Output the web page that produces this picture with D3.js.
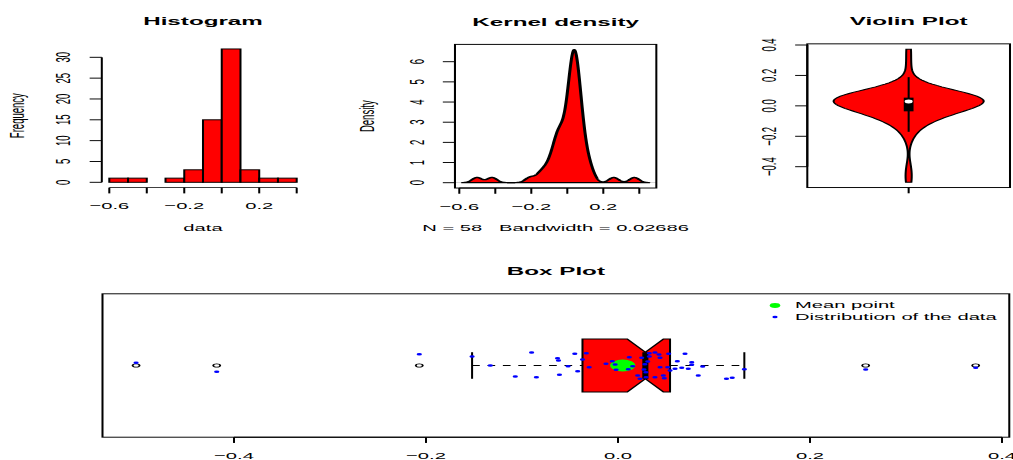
<!DOCTYPE html>
<html><head><meta charset="utf-8">
<script src="https://cdn.jsdelivr.net/npm/d3@7"></script>
<style>body{margin:0;background:#fff}svg{display:block}</style>
</head><body>
<svg id="chart" width="1013" height="460" viewBox="0 0 500 480" preserveAspectRatio="none"></svg>
<script>
// ---------------- data ----------------
const values = [-0.502,-0.418,-0.207,-0.152,-0.133,-0.107,-0.090,-0.085,-0.063,-0.062,
  -0.061,-0.052,-0.045,-0.042,-0.037,-0.033,-0.030,-0.0125,-0.006,-0.003,
  -0.002,0.0107,0.0118,0.0153,0.0205,0.0229,0.0247,0.027,0.028,0.029,
  0.0292,0.031,0.0326,0.0326,0.0385,0.0385,0.0427,0.0438,0.0438,0.0472,
  0.0482,0.0518,0.0528,0.0542,0.0594,0.0618,0.0664,0.0698,0.0732,0.0768,
  0.0768,0.0836,0.0882,0.113,0.119,0.1316,0.258,0.3726];
const jitterY = [0.02,-0.047,0.085,0.068,0.0,-0.083,0.098,-0.088,0.055,0.038,
  -0.07,-0.005,0.088,-0.043,0.045,0.093,-0.013,0.013,0.032,0.008,
  -0.032,-0.028,0.062,-0.005,-0.075,-0.1,0.058,-0.03,0.01,-0.05,
  -0.088,0.03,0.093,0.068,0.098,-0.088,0.083,0.058,-0.013,-0.075,
  -0.096,-0.013,0.088,-0.038,-0.025,0.032,-0.017,0.088,-0.025,0.025,
  0.005,-0.075,-0.008,-0.1,-0.093,-0.028,-0.03,-0.017];
const histBreaks = [-0.6,-0.5,-0.4,-0.3,-0.2,-0.1,0,0.1,0.2,0.3,0.4];
const histTicks = [-0.6,-0.4,-0.2,0,0.2,0.4];
const histTickLabels = ["\u22120.6","","\u22120.2","","0.2",""];
const freqTicks = [0,5,10,15,20,25,30];
const densXTicks = [-0.6,-0.4,-0.2,0,0.2,0.4];
const densXTickLabels = ["\u22120.6","","\u22120.2","","0.2",""];
const densYTicks = [0,1,2,3,4,5,6];
const violinTicks = [-0.4,-0.2,0,0.2,0.4];
const boxTicks = [-0.4,-0.2,0,0.2,0.4];
const bandwidth = 0.02686;
const titles = ["Histogram","Kernel density","Violin Plot","Box Plot"];
const xLabels = ["data"];
const yLabels = ["Frequency","Density"];
const legendLabels = ["Mean point","Distribution of the data"];

// ---------------- helpers ----------------
const SX = 1013/500, SY = 460/480;
const rx = v => v / SX, ry = v => v / SY;   // reference pixels -> drawing units
const FONT = "'Liberation Sans', Arial, Helvetica, sans-serif";
const FS = 9.96, FT = 11.95;
const svg = d3.select("#chart");
svg.append("rect").attr("width",500).attr("height",480).attr("fill","#fff");

function styleAxis(g){
  g.attr("font-family", FONT).attr("font-size", FS);
  g.selectAll("line,path").attr("stroke","#000").attr("stroke-width",1);
  g.selectAll("text").attr("fill","#000");
}
function rotateLeftLabels(g, gap){
  g.selectAll(".tick text").attr("x",0).attr("dy",0).attr("text-anchor","middle")
    .attr("transform",`translate(${-gap},0) rotate(-90)`);
}
function text(x,y,s,opt={}){
  const t = svg.append("text").attr("x",x).attr("y",y).text(s)
    .attr("font-family",FONT).attr("font-size",opt.size||FS)
    .attr("font-weight",opt.bold?"bold":"normal")
    .attr("text-anchor",opt.anchor||"middle").attr("fill","#000");
  if(opt.rot){ t.attr("x",0).attr("y",0).attr("transform",`translate(${x},${y}) rotate(-90)`); }
  return t;
}
const gauss = u => Math.exp(-0.5*u*u)/Math.sqrt(2*Math.PI);
const n = values.length;
const sorted = values.slice().sort(d3.ascending);
const vmin = sorted[0], vmax = sorted[n-1], vr = vmax - vmin;
const TITLE_GAP = 19.4, TICK = 6, XLAB_PAD = 9.4, YLAB_GAP = 15.5;

// ---------------- Histogram ----------------
const counts = histBreaks.slice(0,-1).map((a,i)=>({a, b:histBreaks[i+1],
  c: values.filter(v => v > a && v <= histBreaks[i+1]).length}));
const cmax = d3.max(counts, d=>d.c);
const hx = d3.scaleLinear().domain([-0.6,0.4]).range([rx(109.3), rx(296.7)]);
const hy = d3.scaleLinear().domain([0,30]).range([ry(182.3), ry(57.3)]);
const hL = hx(-0.6 - 0.04), hR = hx(0.4 + 0.04);
const hB = hy(-0.04*cmax), hT = hy(1.04*cmax);
svg.append("g").selectAll("rect").data(counts).join("rect")
  .attr("x", d=>hx(d.a)).attr("width", d=>hx(d.b)-hx(d.a))
  .attr("y", d=>hy(d.c)).attr("height", d=>hy(0)-hy(d.c))
  .attr("fill","#ff0000").attr("stroke","#000").attr("stroke-width",1);
const hxa = svg.append("g").attr("transform",`translate(0,${hB})`)
  .call(d3.axisBottom(hx).tickValues(histTicks).tickFormat((d,i)=>histTickLabels[i])
    .tickSize(TICK).tickSizeOuter(0).tickPadding(XLAB_PAD).offset(0));
styleAxis(hxa);
const hya = svg.append("g").attr("transform",`translate(${hL},0)`)
  .call(d3.axisLeft(hy).tickValues(freqTicks).tickFormat(d3.format("d"))
    .tickSize(TICK).tickSizeOuter(0).offset(0));
styleAxis(hya); rotateLeftLabels(hya, YLAB_GAP);
text((hL+hR)/2, hT - TITLE_GAP, titles[0], {bold:true, size:FT});
text((hL+hR)/2, hB + 45.2, xLabels[0]);
text(hL - 38.3, (hT+hB)/2, yLabels[0], {rot:true});

// ---------------- Kernel density ----------------
const gLo = vmin - 3*bandwidth, gHi = vmax + 3*bandwidth;
const dens = d3.range(512).map(i => {
  const g = gLo + i*(gHi-gLo)/511;
  return [g, d3.sum(values, v => gauss((g-v)/bandwidth))/(n*bandwidth)];
});
const dmax = d3.max(dens, d=>d[1]);
const dx = d3.scaleLinear().domain([-0.6,0.4]).range([rx(459.3), rx(639.3)]);
const dy = d3.scaleLinear().domain([0,6]).range([ry(182.7), ry(61.7)]);
const dPad = (gHi-gLo)*0.04;
const dL = dx(gLo-dPad), dR = dx(gHi+dPad), dT = dy(dmax*1.04), dB = dy(-dmax*0.04);
svg.append("line").attr("x1",dL).attr("x2",dR).attr("y1",dy(0)).attr("y2",dy(0))
  .attr("stroke","#b0b0b0").attr("stroke-width",0.5);
svg.append("path").datum(dens)
  .attr("d", d => d3.line().x(p=>dx(p[0])).y(p=>dy(p[1]))(d) + "Z")
  .attr("fill","#ff0000").attr("stroke","#000").attr("stroke-width",1.5).attr("stroke-linejoin","round");
svg.append("rect").attr("x",dL).attr("y",dT).attr("width",dR-dL).attr("height",dB-dT)
  .attr("fill","none").attr("stroke","#000").attr("stroke-width",1);
const dxa = svg.append("g").attr("transform",`translate(0,${dB})`)
  .call(d3.axisBottom(dx).tickValues(densXTicks).tickFormat((d,i)=>densXTickLabels[i])
    .tickSize(TICK).tickSizeOuter(0).tickPadding(XLAB_PAD).offset(0));
styleAxis(dxa);
const dya = svg.append("g").attr("transform",`translate(${dL},0)`)
  .call(d3.axisLeft(dy).tickValues(densYTicks).tickFormat(d3.format("d"))
    .tickSize(TICK).tickSizeOuter(0).offset(0));
styleAxis(dya); rotateLeftLabels(dya, YLAB_GAP);
text((dL+dR)/2, dT - TITLE_GAP, titles[1], {bold:true, size:FT});
text((dL+dR)/2, dB + 45.2, `N = ${n}   Bandwidth = ${bandwidth}`).style("white-space","pre");
text(dL - 40, (dT+dB)/2, yLabels[1], {rot:true});

// ---------------- Violin ----------------
const vx = d3.scaleLinear().domain([0.46,1.54]).range([rx(807.3), rx(1010)]);
const vy = d3.scaleLinear().domain([-0.4,0.4]).range([ry(166.7), ry(45)]);
const vL = vx(0.46), vR = vx(1.54), vT = vy(vmax+0.04*vr), vB = vy(vmin-0.04*vr);
const h = d3.deviation(values) * Math.pow(4/(3*n), 0.2);
const vden = d3.range(100).map(i => {
  const g = vmin + i*vr/99;
  return [g, d3.mean(values, v => gauss((g-v)/h))/h];
});
const vdm = d3.max(vden, d=>d[1]);
const halfW = 0.4;
const vpts = vden.map(d=>[1 - d[1]/vdm*halfW, d[0]])
  .concat(vden.slice().reverse().map(d=>[1 + d[1]/vdm*halfW, d[0]]));
svg.append("path").datum(vpts)
  .attr("d", d => d3.line().x(p=>vx(p[0])).y(p=>vy(p[1]))(d) + "Z")
  .attr("fill","#ff0000").attr("stroke","#000").attr("stroke-width",1);
const q1 = d3.quantileSorted(sorted,0.25), q3 = d3.quantileSorted(sorted,0.75), med = d3.quantileSorted(sorted,0.5);
const vIqr = q3 - q1;
const vUp = Math.min(q3 + 1.5*vIqr, vmax), vLo = Math.max(q1 - 1.5*vIqr, vmin);
svg.append("line").attr("x1",vx(1)).attr("x2",vx(1)).attr("y1",vy(vUp)).attr("y2",vy(vLo))
  .attr("stroke","#000").attr("stroke-width",1);
svg.append("rect").attr("x",vx(1-0.026)).attr("width",vx(1.026)-vx(0.974))
  .attr("y",vy(q3)).attr("height",vy(q1)-vy(q3)).attr("fill","#000");
svg.append("circle").attr("cx",vx(1)).attr("cy",vy(med)).attr("r",2).attr("fill","#fff");
svg.append("rect").attr("x",vL).attr("y",vT).attr("width",vR-vL).attr("height",vB-vT)
  .attr("fill","none").attr("stroke","#000").attr("stroke-width",1);
const vya = svg.append("g").attr("transform",`translate(${vL},0)`)
  .call(d3.axisLeft(vy).tickValues(violinTicks).tickFormat(d3.format(".1f"))
    .tickSize(TICK).tickSizeOuter(0).offset(0));
styleAxis(vya); rotateLeftLabels(vya, YLAB_GAP);
const vxa = svg.append("g").attr("transform",`translate(0,${vB})`)
  .call(d3.axisBottom(vx).tickValues([1]).tickFormat(()=>"").tickSize(TICK).tickSizeOuter(0).offset(0));
styleAxis(vxa); vxa.select(".domain").remove();
text((vL+vR)/2, vT - TITLE_GAP, titles[2], {bold:true, size:FT});

// ---------------- Box plot ----------------
const bx = d3.scaleLinear().domain([-0.4,0.4]).range([rx(234), rx(1002)]);
const by = d3.scaleLinear().domain([0.46,1.54]).range([ry(437.2), ry(293.8)]);
const bL = bx(vmin-0.04*vr), bR = bx(vmax+0.04*vr), bT = by(1.54), bB = by(0.46);
// Tukey hinges (fivenum)
const n4 = Math.floor((n+3)/2)/2;
const fidx = [1, n4, (n+1)/2, n+1-n4, n];
const fn = fidx.map(d => 0.5*(sorted[Math.floor(d)-1] + sorted[Math.ceil(d)-1]));
const [, hLo, hMed, hUp] = fn;
const iqr = hUp - hLo;
const wLo = d3.min(sorted.filter(v => v >= hLo - 1.5*iqr));
const wHi = d3.max(sorted.filter(v => v <= hUp + 1.5*iqr));
const outs = sorted.filter(v => v < wLo || v > wHi);
const nLo = hMed - 1.58*iqr/Math.sqrt(n), nHi = hMed + 1.58*iqr/Math.sqrt(n);
const bw2 = 0.2, nw = 0.1;
const boxPts = [[hLo,1+bw2],[nLo,1+bw2],[hMed,1+nw],[nHi,1+bw2],[hUp,1+bw2],
  [hUp,1-bw2],[nHi,1-bw2],[hMed,1-nw],[nLo,1-bw2],[hLo,1-bw2]];
svg.append("rect").attr("x",bL).attr("y",bT).attr("width",bR-bL).attr("height",bB-bT)
  .attr("fill","none").attr("stroke","#000").attr("stroke-width",1);
svg.append("path").datum(boxPts)
  .attr("d", d => d3.line().x(p=>bx(p[0])).y(p=>by(p[1]))(d) + "Z")
  .attr("fill","#ff0000").attr("stroke","#000").attr("stroke-width",1);
svg.append("line").attr("x1",bx(hMed)).attr("x2",bx(hMed)).attr("y1",by(1+nw)).attr("y2",by(1-nw))
  .attr("stroke","#000").attr("stroke-width",3);
[[wLo,hLo],[hUp,wHi]].forEach(([a,b])=>{
  svg.append("line").attr("x1",bx(a)).attr("x2",bx(b)).attr("y1",by(1)).attr("y2",by(1))
    .attr("stroke","#000").attr("stroke-width",1.1).attr("stroke-dasharray","3.8,3.8");
});
[wLo,wHi].forEach(w=>{
  svg.append("line").attr("x1",bx(w)).attr("x2",bx(w)).attr("y1",by(1.1)).attr("y2",by(0.9))
    .attr("stroke","#000").attr("stroke-width",1);
});
svg.append("g").selectAll("circle").data(outs).join("circle")
  .attr("cx",d=>bx(d)).attr("cy",by(1)).attr("r",1.75)
  .attr("fill","none").attr("stroke","#000").attr("stroke-width",0.9);
svg.append("circle").attr("cx",bx(d3.mean(values))).attr("cy",by(1)).attr("r",6.2).attr("fill","#00ff00");
svg.append("g").selectAll("circle").data(values).join("circle")
  .attr("cx",d=>bx(d)).attr("cy",(d,i)=>by(1+jitterY[i])).attr("r",1.3).attr("fill","#0000ff");
const bxa = svg.append("g").attr("transform",`translate(0,${bB})`)
  .call(d3.axisBottom(bx).tickValues(boxTicks).tickFormat(d3.format(".1f"))
    .tickSize(TICK).tickSizeOuter(0).tickPadding(XLAB_PAD).offset(0));
styleAxis(bxa);
text((bL+bR)/2, bT - TITLE_GAP, titles[3], {bold:true, size:FT});
// legend
svg.append("circle").attr("cx",rx(775)).attr("cy",ry(305.5)).attr("r",2.6).attr("fill","#00ff00");
svg.append("circle").attr("cx",rx(775)).attr("cy",ry(317)).attr("r",1.3).attr("fill","#0000ff");
text(rx(795), ry(308.3), legendLabels[0], {anchor:"start"});
text(rx(795), ry(320), legendLabels[1], {anchor:"start"});
</script>
</body></html>
